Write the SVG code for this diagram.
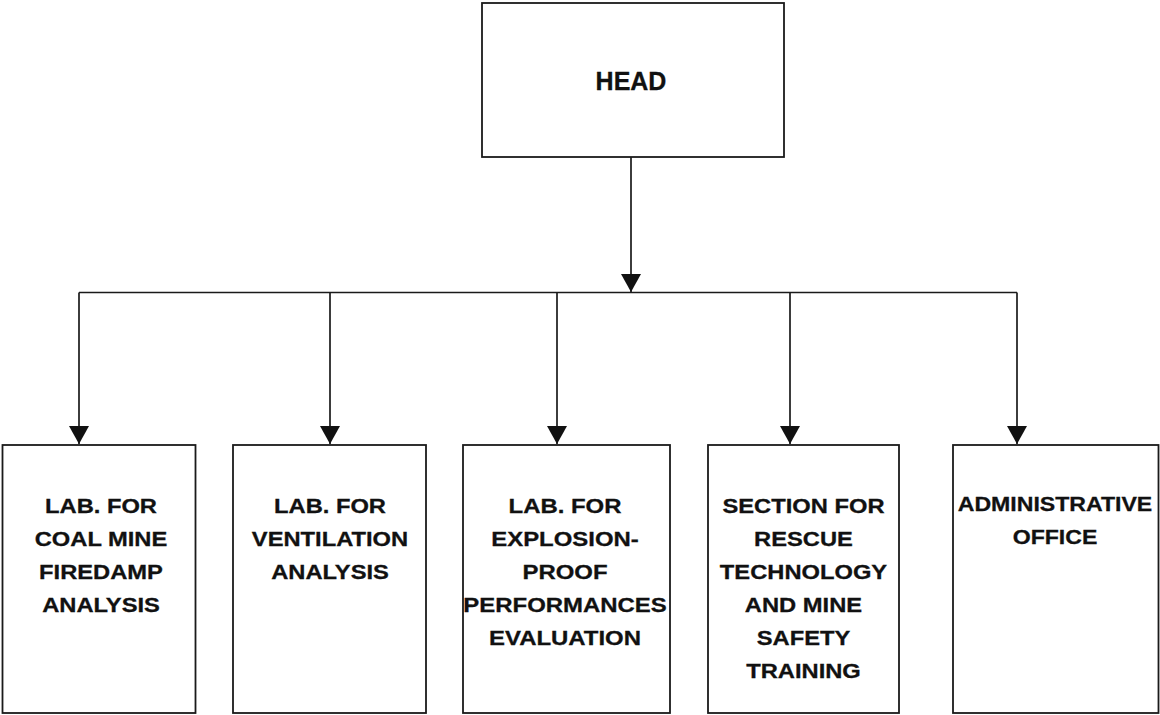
<svg xmlns="http://www.w3.org/2000/svg" width="1160" height="715" viewBox="0 0 1160 715">
  <style>
    .box { fill: #ffffff; stroke: #1a1a1a; stroke-width: 1.8; }
    .wire { fill: none; stroke: #1a1a1a; stroke-width: 1.7; }
    .lbl { font-family: "Liberation Sans", Arial, sans-serif; font-weight: bold; font-size: 21px; fill: #111111; stroke: #111111; stroke-width: 0.3; text-anchor: middle; }
    .head { font-size: 25px; }
  </style>
  <defs>
    <marker id="arrow" markerUnits="userSpaceOnUse" markerWidth="20" markerHeight="20" refX="18" refY="10" orient="auto">
      <path d="M0,0 L18,10 L0,20 Z" fill="#111111"/>
    </marker>
  </defs>
  <rect width="1160" height="715" fill="#ffffff"/>

  <!-- connectors: trunk, bus and five drops -->
  <g id="connectors">
    <line class="wire" x1="631" y1="157" x2="631" y2="292" marker-end="url(#arrow)"/>
    <line class="wire" x1="79" y1="292.5" x2="1017" y2="292.5"/>
    <line class="wire" x1="79" y1="292.5" x2="79" y2="444" marker-end="url(#arrow)"/>
    <line class="wire" x1="330" y1="292.5" x2="330" y2="444" marker-end="url(#arrow)"/>
    <line class="wire" x1="557" y1="292.5" x2="557" y2="444" marker-end="url(#arrow)"/>
    <line class="wire" x1="790" y1="292.5" x2="790" y2="444" marker-end="url(#arrow)"/>
    <line class="wire" x1="1017" y1="292.5" x2="1017" y2="444" marker-end="url(#arrow)"/>
  </g>

  <g id="head">
    <rect class="box" x="482" y="3" width="302" height="154"/>
    <text class="lbl head" x="631" y="90">HEAD</text>
  </g>

  <g id="lab-firedamp">
    <rect class="box" x="2.5" y="445" width="193" height="268"/>
    <g transform="translate(101,0) scale(1.13,1)">
      <text class="lbl" x="0" y="513">LAB. FOR</text>
      <text class="lbl" x="0" y="546">COAL MINE</text>
      <text class="lbl" x="0" y="579">FIREDAMP</text>
      <text class="lbl" x="0" y="612">ANALYSIS</text>
    </g>
  </g>

  <g id="lab-ventilation">
    <rect class="box" x="233" y="445" width="193" height="268"/>
    <g transform="translate(330,0) scale(1.13,1)">
      <text class="lbl" x="0" y="513">LAB. FOR</text>
      <text class="lbl" x="0" y="546">VENTILATION</text>
      <text class="lbl" x="0" y="579">ANALYSIS</text>
    </g>
  </g>

  <g id="lab-explosion-proof">
    <rect class="box" x="463" y="445" width="207" height="268"/>
    <g transform="translate(565,0) scale(1.14,1)">
      <text class="lbl" x="0" y="513">LAB. FOR</text>
      <text class="lbl" x="0" y="546">EXPLOSION-</text>
      <text class="lbl" x="0" y="579">PROOF</text>
      <text class="lbl" x="0" y="612">PERFORMANCES</text>
      <text class="lbl" x="0" y="645">EVALUATION</text>
    </g>
  </g>

  <g id="section-rescue">
    <rect class="box" x="708" y="445" width="191" height="268"/>
    <g transform="translate(803.5,0) scale(1.13,1)">
      <text class="lbl" x="0" y="513">SECTION FOR</text>
      <text class="lbl" x="0" y="546">RESCUE</text>
      <text class="lbl" x="0" y="579">TECHNOLOGY</text>
      <text class="lbl" x="0" y="612">AND MINE</text>
      <text class="lbl" x="0" y="645">SAFETY</text>
      <text class="lbl" x="0" y="678">TRAINING</text>
    </g>
  </g>

  <g id="admin-office">
    <rect class="box" x="953" y="445" width="205.5" height="268"/>
    <g transform="translate(1055,0) scale(1.1,1)">
      <text class="lbl" x="0" y="511">ADMINISTRATIVE</text>
      <text class="lbl" x="0" y="544">OFFICE</text>
    </g>
  </g>
</svg>
